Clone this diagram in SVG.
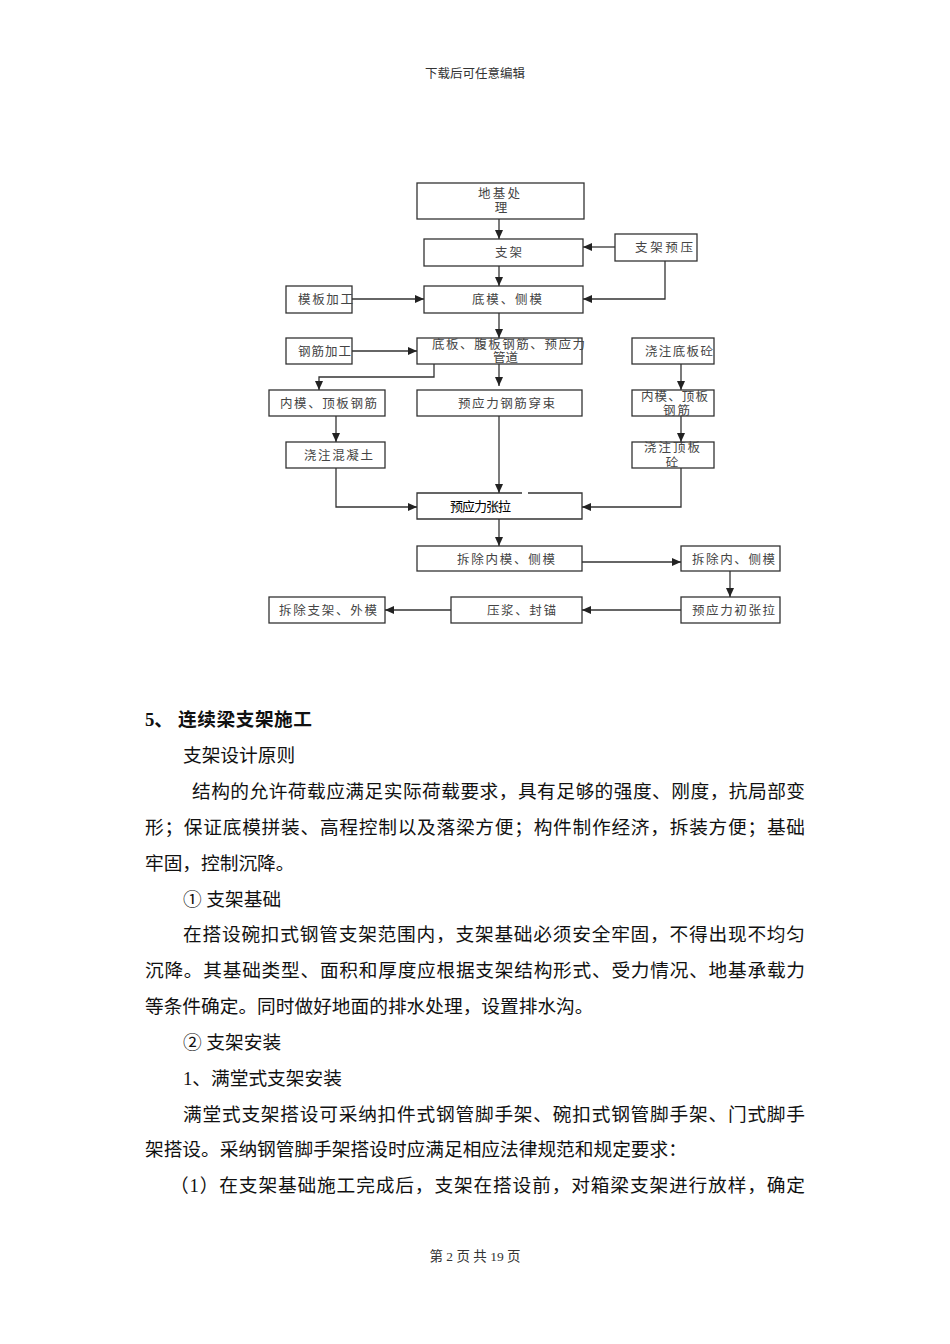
<svg xmlns="http://www.w3.org/2000/svg" width="950" height="1344" viewBox="0 0 950 1344">
<style>
.box{fill:#fff;stroke:#333;stroke-width:1.3}
.bt{font-family:"Liberation Serif","Noto Sans CJK SC",serif;font-size:12.5px;fill:#444}
.bs{font-family:"Liberation Sans","Noto Sans CJK SC",sans-serif;font-size:13px;fill:#000}
.ln{fill:none;stroke:#333;stroke-width:1.3}
.body{font-family:"Liberation Serif","Noto Sans CJK SC",serif;font-size:18.7px;fill:#111}
.hd{font-family:"Liberation Serif","Noto Sans CJK SC",serif;font-size:12.5px;fill:#333}
</style>
<defs>
<marker id="ar" markerUnits="userSpaceOnUse" markerWidth="10" markerHeight="8" refX="9" refY="4" orient="auto">
<path d="M0,0 L9,4 L0,8 Z" fill="#222"/>
</marker>
</defs>
<rect width="950" height="1344" fill="#fff"/>
<text class="hd" x="475" y="78" text-anchor="middle">下载后可任意编辑</text>

<g id="n1"><rect class="box" x="417" y="183" width="167" height="36"/><text class="bt" x="478" y="197.5" textLength="42" lengthAdjust="spacing">地基处</text><text class="bt" x="501" y="211.5" text-anchor="middle">理</text></g>
<g id="n2"><rect class="box" x="424" y="239" width="159" height="27"/><text class="bt" x="495" y="256.5" textLength="27" lengthAdjust="spacing">支架</text></g>
<g id="n3"><rect class="box" x="615" y="234" width="82" height="27"/><text class="bt" x="635" y="251.5" textLength="58" lengthAdjust="spacing">支架预压</text></g>
<g id="n4"><rect class="box" x="286" y="286" width="66" height="27"/><text class="bt" x="298" y="303.5" textLength="55" lengthAdjust="spacing">模板加工</text></g>
<g id="n5"><rect class="box" x="424" y="286" width="159" height="27"/><text class="bt" x="472" y="303.5" textLength="70" lengthAdjust="spacing">底模、侧模</text></g>
<g id="n6"><rect class="box" x="286" y="338" width="66" height="26"/><text class="bt" x="298" y="355.5" textLength="53" lengthAdjust="spacing">钢筋加工</text></g>
<g id="n7"><rect class="box" x="417" y="338" width="165" height="26"/><text class="bt" x="432" y="348.5" textLength="153" lengthAdjust="spacing">底板、腹板钢筋、预应力</text><text class="bt" x="493" y="361.5" textLength="25" lengthAdjust="spacing">管道</text></g>
<g id="n8"><rect class="box" x="632" y="338" width="82" height="26"/><text class="bt" x="645" y="355.5" textLength="68" lengthAdjust="spacing">浇注底板砼</text></g>
<g id="n9"><rect class="box" x="269" y="390" width="116" height="26"/><text class="bt" x="280" y="407.5" textLength="97" lengthAdjust="spacing">内模、顶板钢筋</text></g>
<g id="n10"><rect class="box" x="417" y="390" width="165" height="26"/><text class="bt" x="458" y="407.5" textLength="97" lengthAdjust="spacing">预应力钢筋穿束</text></g>
<g id="n11"><rect class="box" x="632" y="390" width="82" height="26"/><text class="bt" x="641" y="400.5" textLength="67" lengthAdjust="spacing">内模、顶板</text><text class="bt" x="663" y="414.5" textLength="27" lengthAdjust="spacing">钢筋</text></g>
<g id="n12"><rect class="box" x="286" y="442" width="99" height="26"/><text class="bt" x="304" y="459.5" textLength="69" lengthAdjust="spacing">浇注混凝土</text></g>
<g id="n13"><rect class="box" x="632" y="442" width="82" height="26"/><text class="bt" x="644" y="451.5" textLength="56" lengthAdjust="spacing">浇注顶板</text><text class="bt" x="672" y="466.5" text-anchor="middle">砼</text></g>
<g id="n14"><path class="box" d="M522,493 H417 V519 H582 V493 H528"/><text class="bs" x="450" y="510.5" textLength="61" lengthAdjust="spacing">预应力张拉</text></g>
<g id="n15"><rect class="box" x="417" y="546" width="165" height="25"/><text class="bt" x="457" y="563.5" textLength="98" lengthAdjust="spacing">拆除内模、侧模</text></g>
<g id="n16"><rect class="box" x="681" y="546" width="99" height="25"/><text class="bt" x="692" y="563.5" textLength="83" lengthAdjust="spacing">拆除内、侧模</text></g>
<g id="n17"><rect class="box" x="269" y="597" width="116" height="26"/><text class="bt" x="279" y="614.5" textLength="98" lengthAdjust="spacing">拆除支架、外模</text></g>
<g id="n18"><rect class="box" x="451" y="597" width="131" height="26"/><text class="bt" x="487" y="614.5" textLength="69" lengthAdjust="spacing">压浆、封锚</text></g>
<g id="n19"><rect class="box" x="681" y="597" width="99" height="26"/><text class="bt" x="692" y="614.5" textLength="83" lengthAdjust="spacing">预应力初张拉</text></g>

<g id="connectors" class="ln" marker-end="url(#ar)">
<path class="ln" marker-end="url(#ar)" d="M499,219 V239"/>
<path class="ln" marker-end="url(#ar)" d="M615,247 H583"/>
<path class="ln" marker-end="url(#ar)" d="M499,266 V286"/>
<path class="ln" marker-end="url(#ar)" d="M665,261 V299 H583"/>
<path class="ln" marker-end="url(#ar)" d="M352,299 H424"/>
<path class="ln" marker-end="url(#ar)" d="M499,313 V338"/>
<path class="ln" marker-end="url(#ar)" d="M352,351 H417"/>
<path class="ln" marker-end="url(#ar)" d="M434,364 V377 H319 V390"/>
<path class="ln" marker-end="url(#ar)" d="M499,364 V386"/>
<path class="ln" marker-end="url(#ar)" d="M336,416 V442"/>
<path class="ln" marker-end="url(#ar)" d="M336,468 V507 H417"/>
<path class="ln" marker-end="url(#ar)" d="M499,416 V493"/>
<path class="ln" marker-end="url(#ar)" d="M681,364 V390"/>
<path class="ln" marker-end="url(#ar)" d="M681,416 V442"/>
<path class="ln" marker-end="url(#ar)" d="M681,468 V507 H582"/>
<path class="ln" marker-end="url(#ar)" d="M499,519 V546"/>
<path class="ln" marker-end="url(#ar)" d="M582,562 H681"/>
<path class="ln" marker-end="url(#ar)" d="M730,571 V597"/>
<path class="ln" marker-end="url(#ar)" d="M681,610 H582"/>
<path class="ln" marker-end="url(#ar)" d="M451,610 H385"/>
</g>

<g id="body">
<text class="body" x="145" y="726" font-weight="bold">5、</text>
<text class="body" x="178" y="726" font-weight="bold" textLength="134" lengthAdjust="spacing">连续梁支架施工</text>
<text class="body" x="183" y="762">支架设计原则</text>
<text class="body" x="192" y="797.5" textLength="613" lengthAdjust="spacing">结构的允许荷载应满足实际荷载要求，具有足够的强度、刚度，抗局部变</text>
<text class="body" x="145" y="833.5" textLength="660" lengthAdjust="spacing">形；保证底模拼装、高程控制以及落梁方便；构件制作经济，拆装方便；基础</text>
<text class="body" x="145" y="869.5">牢固，控制沉降。</text>
<text class="body" x="183" y="905.5">① 支架基础</text>
<text class="body" x="183" y="941" textLength="622" lengthAdjust="spacing">在搭设碗扣式钢管支架范围内，支架基础必须安全牢固，不得出现不均匀</text>
<text class="body" x="145" y="977" textLength="660" lengthAdjust="spacing">沉降。其基础类型、面积和厚度应根据支架结构形式、受力情况、地基承载力</text>
<text class="body" x="145" y="1013">等条件确定。同时做好地面的排水处理，设置排水沟。</text>
<text class="body" x="183" y="1049">② 支架安装</text>
<text class="body" x="183" y="1084.5">1、满堂式支架安装</text>
<text class="body" x="183" y="1120.5" textLength="622" lengthAdjust="spacing">满堂式支架搭设可采纳扣件式钢管脚手架、碗扣式钢管脚手架、门式脚手</text>
<text class="body" x="145" y="1156">架搭设。采纳钢管脚手架搭设时应满足相应法律规范和规定要求：</text>
<text class="body" x="170" y="1192" textLength="635" lengthAdjust="spacing">（1）在支架基础施工完成后，支架在搭设前，对箱梁支架进行放样，确定</text>
</g>
<text class="hd" x="475" y="1260.5" text-anchor="middle" font-size="13.5" style="font-size:13.5px">第 2 页 共 19 页</text>
</svg>
